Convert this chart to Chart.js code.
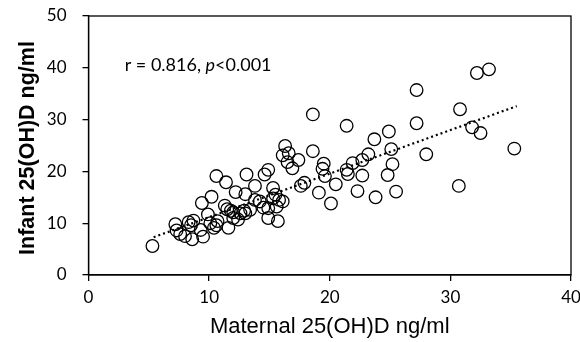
<!DOCTYPE html>
<html>
<head>
<meta charset="utf-8">
<script src="https://cdn.jsdelivr.net/npm/chart.js@4"></script>
<style>
  body { margin: 0; background: #fff; }
</style>
</head>
<body>
<canvas id="chart" width="580" height="342"></canvas>
<script>
// maternal (x) and infant (y) 25(OH)D, ng/ml
var maternal = [
    5.3, 7.2, 7.3, 7.6, 8.0, 8.6, 8.3, 8.7, 8.5, 9.3,
    9.5, 9.4, 9.9, 10.1, 10.4, 10.6, 10.7, 10.2, 10.6, 11.4,
    11.3, 11.5, 11.8, 12.0, 11.6, 12.0, 12.4, 12.6, 12.9, 12.2,
    13.0, 13.1, 13.0, 13.4, 13.8, 14.2, 14.5, 13.8, 14.6, 14.9,
    14.9, 14.9, 15.3, 15.5, 15.3, 15.8, 16.1, 15.6, 15.7,
    16.3, 16.1, 16.6, 16.5, 17.4, 16.9, 17.6, 17.9, 18.6, 18.6,
    19.1, 19.4, 19.5, 19.6, 20.1, 20.5, 21.4, 21.4, 21.5, 21.9,
    22.7, 23.2, 23.7, 24.9, 25.1, 25.2, 24.8, 22.7, 22.3, 23.8,
    25.5, 27.2, 27.2, 28.0,
    30.8, 31.8, 32.5, 32.2, 33.2, 35.3, 30.7
];
var infant = [
    5.6, 9.8, 8.6, 7.9, 7.5, 6.9, 10.2, 10.5, 9.6, 8.7,
    7.4, 13.9, 11.7, 10.0, 9.1, 9.6, 10.4, 15.1, 19.1, 17.9,
    13.4, 12.7, 12.4, 12.1, 9.1, 11.0, 10.7, 11.9, 12.4, 16.0,
    15.6, 19.4, 11.9, 12.6, 14.5, 14.2, 13.0, 17.2, 19.4, 20.3,
    12.9, 11.0, 16.8, 15.5, 14.8, 14.5, 14.2, 13.2, 10.4,
    24.9, 23.1, 23.5, 21.8, 22.2, 20.6, 17.2, 17.8, 31.0, 23.9,
    15.9, 20.5, 21.5, 19.1, 13.8, 17.5, 28.8, 20.3, 19.5, 21.6,
    22.2, 23.3, 26.2, 27.7, 24.3, 21.4, 19.3, 19.2, 16.2, 15.0,
    16.1, 35.7, 29.3, 23.3,
    32.0, 28.5, 27.4, 39.0, 39.7, 24.4, 17.2
];
// ends of the linear fit
var fitX = [5.4, 35.5];
var fitY = [7.3, 32.6];

var xTicks = [0, 10, 20, 30, 40];
var yTicks = [0, 10, 20, 30, 40, 50];

var points = maternal.map(function (m, i) {
    return { x: m, y: infant[i] };
});
var fitLine = fitX.map(function (v, i) {
    return { x: v, y: fitY[i] };
});

// box round the plot, the y title and the r / p note
var extras = {
    id: 'extras',
    afterDraw: function (chart) {
        var ctx = chart.ctx;
        var a = chart.chartArea;
        ctx.save();
        ctx.strokeStyle = '#000';
        ctx.lineWidth = 1.3;
        ctx.strokeRect(a.left, a.top, a.right - a.left, a.bottom - a.top);

        ctx.fillStyle = '#000';
        ctx.textBaseline = 'middle';

        // y axis title
        ctx.save();
        ctx.translate(28, 148);
        ctx.rotate(-Math.PI / 2);
        ctx.textAlign = 'center';
        ctx.font = 'bold 21.5px "Liberation Sans"';
        ctx.fillText('Infant 25(OH)D ng/ml', 0, 0);
        ctx.restore();

        var x = chart.scales.x.getPixelForValue(3.0);
        var y = chart.scales.y.getPixelForValue(40.6);
        ctx.font = '18px Lato';
        var s1 = 'r = 0.816, ';
        ctx.fillText(s1, x, y);
        var w = ctx.measureText(s1).width;
        ctx.font = 'italic 18px Lato';
        ctx.fillText('p', x + w, y);
        w += ctx.measureText('p').width;
        ctx.font = '18px Lato';
        ctx.fillText('<0.001', x + w, y);
        ctx.restore();
    }
};

var ctx = document.getElementById('chart').getContext('2d');
var chart = new Chart(ctx, {
    type: 'scatter',
    data: {
        datasets: [{
            data: points,
            pointStyle: 'circle',
            pointRadius: 6.3,
            pointBorderWidth: 1.3,
            pointBorderColor: '#000',
            pointBackgroundColor: 'rgba(0,0,0,0)'
        }, {
            type: 'line',
            data: fitLine,
            borderColor: '#000',
            borderWidth: 2.2,
            borderDash: [2, 3],
            pointRadius: 0,
            fill: false
        }]
    },
    options: {
        responsive: false,
        animation: false,
        layout: { padding: { top: 16, right: 9, left: 0, bottom: 0 } },
        plugins: {
            legend: { display: false },
            tooltip: { enabled: false }
        },
        scales: {
            x: {
                type: 'linear',
                min: 0,
                max: 40,
                afterBuildTicks: function (scale) {
                    scale.ticks = xTicks.map(function (v) { return { value: v }; });
                },
                afterFit: function (scale) {
                    scale.height = 67;
                    scale.paddingLeft = 0;
                    scale.paddingRight = 0;
                },
                grid: { drawOnChartArea: false, drawTicks: true, tickLength: 6, color: '#000', lineWidth: 1.3 },
                border: { color: '#000', width: 1.3 },
                ticks: { color: '#000', font: { family: 'Lato', size: 17 }, padding: 6, maxRotation: 0 },
                title: {
                    display: true,
                    text: 'Maternal 25(OH)D ng/ml',
                    color: '#000',
                    font: { family: 'Liberation Sans', size: 22, lineHeight: 1 },
                    padding: { top: -7 }
                }
            },
            y: {
                min: 0,
                max: 50,
                afterBuildTicks: function (scale) {
                    scale.ticks = yTicks.map(function (v) { return { value: v }; });
                },
                afterFit: function (scale) {
                    scale.width = 88.5;
                    scale.paddingTop = 0;
                    scale.paddingBottom = 0;
                },
                grid: { drawOnChartArea: false, drawTicks: true, tickLength: 6, color: '#000', lineWidth: 1.3 },
                border: { color: '#000', width: 1.3 },
                ticks: { color: '#000', font: { family: 'Lato', size: 17 }, padding: 16 }
            }
        }
    },
    plugins: [extras]
});
</script>
</body>
</html>
